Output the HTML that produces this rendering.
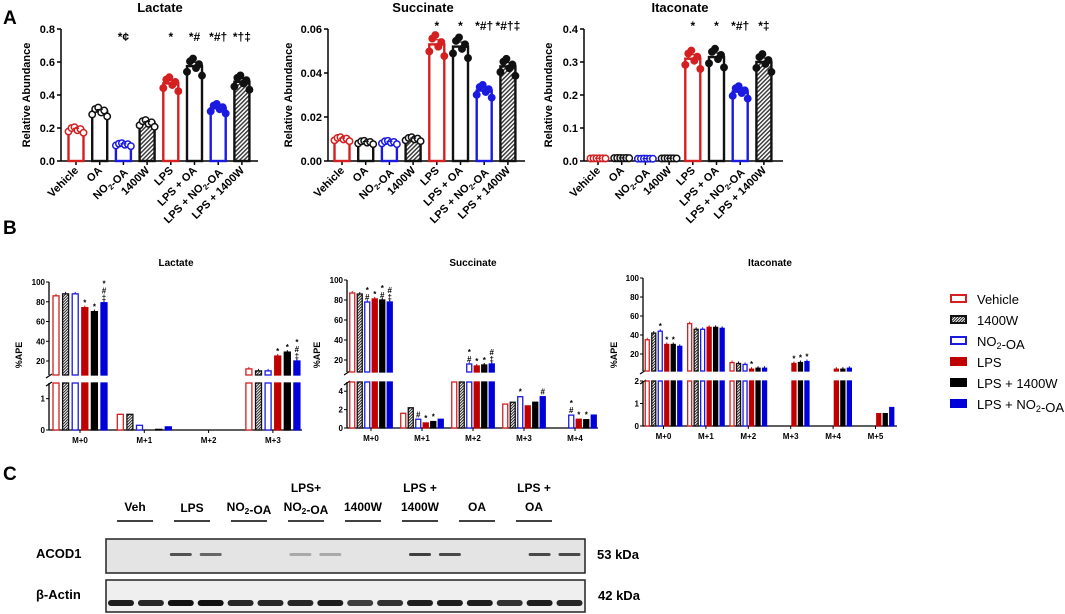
<!DOCTYPE html>
<html><head><meta charset="utf-8">
<style>
html,body{margin:0;padding:0;background:#fff;}
svg{display:block;font-family:"Liberation Sans",Arial,sans-serif;}
text{font-weight:bold;}
</style></head>
<body>
<svg id="fig" width="1065" height="614" viewBox="0 0 1065 614" xmlns="http://www.w3.org/2000/svg">
<defs>
<pattern id="hatch" patternUnits="userSpaceOnUse" width="3" height="3" patternTransform="rotate(45)">
<rect width="3" height="3" fill="#fff"/><rect width="1.4" height="3" fill="#333"/>
</pattern>
<pattern id="hatchS" patternUnits="userSpaceOnUse" width="2" height="2" patternTransform="rotate(45)">
<rect width="2" height="2" fill="#fff"/><rect width="1" height="2" fill="#222"/>
</pattern>
</defs>
<text x="3" y="24" font-size="19">A</text>
<text x="3" y="234" font-size="19">B</text>
<text x="3" y="480" font-size="19">C</text>
<g id="gA"></g><g id="gB"></g><g id="gC"></g>
</svg>
<script>
// ---------- Panel A data ----------
const catsA = ["Vehicle","OA","NO2-OA","1400W","LPS","LPS + OA","LPS + NO2-OA","LPS + 1400W"];
const lactateA = [0.19,0.30,0.10,0.23,0.47,0.575,0.32,0.48];
const succinateA = [0.010,0.0085,0.0085,0.010,0.053,0.052,0.032,0.043];
const itaconateA = [0.008,0.009,0.007,0.008,0.31,0.315,0.21,0.30];
const lactateTicks = [0,0.2,0.4,0.6,0.8];
const succinateTicks = [0,0.02,0.04,0.06];
const itaconateTicks = [0,0.1,0.2,0.3,0.4];
const lactateSig = ["","","*¢","","*","*#","*#†","*†‡"];
const succinateSig = ["","","","","*","*","*#†","*#†‡"];
const itaconateSig = ["","","","","*","*","*#†","*‡"];
const dotSpread = [-0.06,0.05,0.08,-0.02,0.02,-0.1];
// ---------- Panel B data ----------
const seriesB = ["Vehicle","1400W","NO2-OA","LPS","LPS + 1400W","LPS + NO2-OA"];
const lactGroups = ["M+0","M+1","M+2","M+3"];
const lactB = [[86,88,88,74,70,79],[0.5,0.5,0.15,0,0.02,0.1],[0,0,0,0,0,0],[12,10,10,25,29,20]];
const succGroups = ["M+0","M+1","M+2","M+3","M+4"];
const succB = [[87,86,78,81,80,78],[1.6,2.2,0.95,0.55,0.7,0.95],[8,8,16,14,15,16],[2.6,2.8,3.4,2.4,2.8,3.4],[0,0,1.4,0.95,0.9,1.4]];
const itaGroups = ["M+0","M+1","M+2","M+3","M+4","M+5"];
const itaB = [[35,42,44,30,30,28],[52,46,46,48,48,47],[11,10,9,4,5,5],[0,0,0,10,11,12],[0,0,0,4,4,5],[0,0,0,0.55,0.55,0.82]];
const upperTicksB = [20,40,60,80,100];
const lactLowTicks = [0,1]; const succLowTicks = [0,2,4]; const itaLowTicks = [0,1,2];
const lactSigB = [[0,3,["*"]],[0,4,["*"]],[0,5,["*","#","‡"]],[3,3,["*"]],[3,4,["*"]],[3,5,["*","#","‡"]]];
const succSigB = [[0,2,["*","#"]],[0,3,["*"]],[0,4,["*","#"]],[0,5,["#","‡"]],[1,2,["#"]],[1,3,["*"]],[1,4,["*"]],[2,2,["*","#"]],[2,3,["*"]],[2,4,["*"]],[2,5,["#","‡"]],[3,2,["*"]],[3,5,["#"]],[4,2,["*","#"]],[4,3,["*"]],[4,4,["*"]]];
const itaSigB = [[0,2,["*"]],[0,3,["*"]],[0,4,["*"]],[2,3,["*"]],[3,3,["*"]],[3,4,["*"]],[3,5,["*"]]];
// ---------- Panel C data ----------
const laneLabels = [["Veh"],["LPS"],["NO2-OA"],["LPS+","NO2-OA"],["1400W"],["LPS +","1400W"],["OA"],["LPS +","OA"]];
const acodIntensity = [0,0,0.75,0.65,0,0,0.3,0.3,0,0,0.85,0.8,0,0,0.8,0.8];
const actinIntensity = [0.95,0.9,1,1,0.9,0.9,0.9,0.95,0.8,0.85,0.95,0.95,0.95,0.85,0.95,0.9];

const NS="http://www.w3.org/2000/svg";
function mk(parent,tag,attrs,txt){const e=document.createElementNS(NS,tag);for(const k in attrs)e.setAttribute(k,attrs[k]);if(txt!==undefined)e.textContent=txt;parent.appendChild(e);return e;}
function labelText(el,str){
  const parts=str.split("NO2");
  parts.forEach((p,i)=>{ if(i>0){mk(el,"tspan",{},"NO");mk(el,"tspan",{"font-size":"0.7em",dy:"3"},"2");mk(el,"tspan",{dy:"-3"},"");} if(p)mk(el,"tspan",{},p);});
}
const colA=["#d42020","#111","#1a1ae0","#111","#d42020","#111","#1a1ae0","#111"];

function chartA(g,name,title,titleX,axisX,x0,axisEnd,vals,ticks,max,dec,sig,sigY,ytitleX){
  const base=161,top=29,dx=23.7,bw=15;
  const y=v=>base-v/max*(base-top);
  const x=i=>x0+i*dx;
  const grp=mk(g,"g",{});
  
  
  const t=mk(grp,"text",{x:titleX,y:12,"font-size":13,"text-anchor":"middle"},title);
  
  const yt=mk(grp,"text",{x:ytitleX,y:95,"font-size":11,"text-anchor":"middle",transform:`rotate(-90 ${ytitleX} 95)`},"Relative Abundance");
  
  mk(grp,"line",{x1:axisX,y1:top,x2:axisX,y2:base,stroke:"#000","stroke-width":1.5});
  mk(grp,"line",{x1:axisX,y1:base,x2:axisEnd,y2:base,stroke:"#000","stroke-width":1.5});
  ticks.forEach(tv=>{
    mk(grp,"line",{x1:axisX-4,y1:y(tv),x2:axisX,y2:y(tv),stroke:"#000","stroke-width":1.5});
    const tl=mk(grp,"text",{x:axisX-6,y:y(tv)+4,"font-size":11,"text-anchor":"end"},tv.toFixed(dec));
    
  });
  vals.forEach((v,i)=>{
    const cx=x(i);
    mk(grp,"line",{x1:cx,y1:base,x2:cx,y2:base+4,stroke:"#000","stroke-width":1.5});
    const hatch=(i===3||i===7);
    const b=mk(grp,"rect",{x:cx-bw/2,y:y(v),width:bw,height:base-y(v),fill:hatch?"url(#hatch)":"#fff",stroke:colA[i],"stroke-width":2.4});
    
    const filled=i>=4;
    dotSpread.forEach((d,k)=>{
      const dv=v*(1+d*(v>0.05*max?1:0.3));
      const ox=(k-2.5)*3;
      mk(grp,"circle",{cx:cx+ox,cy:y(dv),r:3.2,fill:filled?colA[i]:"#fff",stroke:colA[i],"stroke-width":1.5});
    });
    mk(grp,"line",{x1:cx-3,y1:y(v*1.04),x2:cx+3,y2:y(v*1.04),stroke:colA[i],"stroke-width":1.2});
    const lab=mk(grp,"text",{x:cx+3,y:171,"font-size":11,"text-anchor":"end",transform:`rotate(-45 ${cx+3} 171)`});
    labelText(lab,catsA[i]);
    
    if(sig[i]){const s=mk(grp,"text",{x:cx,y:sigY,"font-size":12,"text-anchor":"middle"},sig[i]);
      }
  });
}
const gA=document.getElementById("gA");
chartA(gA,"lactate","Lactate",160,61,76,258,lactateA,lactateTicks,0.8,1,lactateSig,41,30);
chartA(gA,"succinate","Succinate",423,328,342,525,succinateA,succinateTicks,0.06,2,succinateSig,30,292);
chartA(gA,"itaconate","Itaconate",680,584,598,783,itaconateA,itaconateTicks,0.4,1,itaconateSig,30,552);

// ---------- Panel B ----------
const colB=["#d42020","#111","#1a1ae0","#c00000","#000","#0000d8"];
const fillB=["#fff","url(#hatchS)","#fff","#c00000","#000","#0000d8"];
function chartB(g,name,title,titleX,cfg,groups,data,lowTicks,sigs){
  const {ax,axEnd,g0,gdx,bdx,bw,uTop,uPx,uMin,uMax,uBot,lTop,lBase,lMax,yl}=cfg;
  const yU=v=>uTop+(uMax-v)*uPx;
  const yL=v=>lBase-v/lMax*(lBase-lTop);
  const grp=mk(g,"g",{});
  
  
  const t=mk(grp,"text",{x:titleX,y:266,"font-size":10,"text-anchor":"middle"},title);
  
  const yt=mk(grp,"text",{x:yl,y:355,"font-size":9,"text-anchor":"middle",transform:`rotate(-90 ${yl} 355)`},"%APE");
  
  mk(grp,"line",{x1:ax,y1:uTop,x2:ax,y2:uBot,stroke:"#000","stroke-width":1.3});
  mk(grp,"line",{x1:ax,y1:lTop,x2:ax,y2:lBase,stroke:"#000","stroke-width":1.3});
  mk(grp,"line",{x1:ax-3,y1:uBot+3,x2:ax+3,y2:uBot-1,stroke:"#000","stroke-width":1.2});
  mk(grp,"line",{x1:ax-3,y1:lTop+3,x2:ax+3,y2:lTop-1,stroke:"#000","stroke-width":1.2});
  mk(grp,"line",{x1:ax,y1:lBase,x2:axEnd,y2:lBase,stroke:"#000","stroke-width":1.3});
  upperTicksB.forEach(tv=>{
    mk(grp,"line",{x1:ax-3,y1:yU(tv),x2:ax,y2:yU(tv),stroke:"#000"});
    mk(grp,"text",{x:ax-4,y:yU(tv)+3,"font-size":8,"text-anchor":"end"},tv);
  });
  lowTicks.forEach(tv=>{
    mk(grp,"line",{x1:ax-3,y1:yL(tv),x2:ax,y2:yL(tv),stroke:"#000"});
    mk(grp,"text",{x:ax-4,y:yL(tv)+3,"font-size":8,"text-anchor":"end"},tv);
  });
  groups.forEach((gn,gi)=>{
    const gc=g0+gi*gdx;
    mk(grp,"line",{x1:gc,y1:lBase,x2:gc,y2:lBase+3,stroke:"#000"});
    const gl=mk(grp,"text",{x:gc,y:lBase+13,"font-size":8,"text-anchor":"middle"},gn);
    
    data[gi].forEach((v,si)=>{
      if(v<=0)return;
      const bx=gc+(si-2.5)*bdx-bw/2;
      const st={fill:fillB[si],stroke:colB[si],"stroke-width":1.3};
      const lv=Math.min(v,lMax);
      const r1=mk(grp,"rect",Object.assign({x:bx,y:yL(lv),width:bw,height:lBase-yL(lv)},st));
      
      if(v>uMin){
        mk(grp,"rect",Object.assign({x:bx,y:yU(v),width:bw,height:uBot-yU(v)},st));
        mk(grp,"line",{x1:bx+bw/2,y1:yU(v),x2:bx+bw/2,y2:yU(v)-2,stroke:colB[si]});
      }
    });
  });
  sigs.forEach(([gi,si,lines])=>{
    const v=data[gi][si];
    const cx=g0+gi*gdx+(si-2.5)*bdx;
    let ty=(v>uMin?yU(v):yL(Math.min(v,lMax)))-4;
    for(let k=lines.length-1;k>=0;k--){
      const s=mk(grp,"text",{x:cx,y:ty+2,"font-size":8,"text-anchor":"middle"},lines[k]);
      
      ty-=7;
    }
  });
}
const gB=document.getElementById("gB");
chartB(gB,"lactate","Lactate",176,{ax:49,axEnd:302,g0:80,gdx:64.3,bdx:9.6,bw:6,uTop:282,uPx:0.9875,uMin:6,uMax:100,uBot:375,lTop:383,lBase:430,lMax:1.5,yl:22},lactGroups,lactB,lactLowTicks,lactSigB);
chartB(gB,"succinate","Succinate",473,{ax:347,axEnd:598,g0:371,gdx:51,bdx:7.5,bw:5,uTop:280,uPx:1,uMin:8,uMax:100,uBot:372,lTop:382,lBase:428,lMax:5,yl:320},succGroups,succB,succLowTicks,succSigB);
chartB(gB,"itaconate","Itaconate",770,{ax:643,axEnd:897,g0:663.5,gdx:42.4,bdx:6.5,bw:4,uTop:278,uPx:0.95,uMin:2,uMax:100,uBot:371,lTop:381,lBase:426,lMax:2,yl:617},itaGroups,itaB,itaLowTicks,itaSigB);

// legend
const legG=mk(gB,"g",{});


seriesB.forEach((s,i)=>{
  const ly=299+i*21;
  const e=mk(legG,"g",{});
  
  
  mk(e,"rect",{x:951,y:ly-4,width:15,height:7,fill:i===1?"url(#hatchS)":fillB[i],stroke:colB[i],"stroke-width":2});
  const t=mk(e,"text",{x:977,y:ly+5,"font-size":13,style:"font-weight:normal"});
  labelText(t,s);
});

// ---------- Panel C ----------
const gC=document.getElementById("gC");
laneLabels.forEach((ll,i)=>{
  const cx=135+i*57;
  const g=mk(gC,"g",{});
  
  
  ll.forEach((line,k)=>{
    const ty=ll.length===1?(i===1?512:511):(492+k*19);
    const t=mk(g,"text",{x:cx,y:ty,"font-size":12,"text-anchor":"middle"});
    labelText(t,line);
  });
  mk(g,"line",{x1:cx-18,y1:521,x2:cx+18,y2:521,stroke:"#000","stroke-width":1.5});
});
const bl=[["ACOD1",558],["β-Actin",599]];
bl.forEach(([n,yy])=>{const t=mk(gC,"text",{x:36,y:yy,"font-size":13},n);});
const r1=mk(gC,"rect",{x:106,y:539,width:479,height:34,fill:"#e4e4e4",stroke:"#222","stroke-width":1.5});

const r2=mk(gC,"rect",{x:106,y:580,width:479,height:32,fill:"#efefef",stroke:"#222","stroke-width":1.5});

for(let i=0;i<16;i++){
  const cx=121+i*29.9;
  const a=acodIntensity[i]||0;
  if(a>0){const b=mk(gC,"rect",{x:cx-11,y:553,width:22,height:3,rx:1.5,fill:"#222","fill-opacity":a});
    }
  const b2=mk(gC,"rect",{x:cx-13,y:600,width:26,height:6,rx:3,fill:"#111","fill-opacity":actinIntensity[i]});
  
}
const k1=mk(gC,"text",{x:597,y:559,"font-size":13},"53 kDa");
const k2=mk(gC,"text",{x:598,y:600,"font-size":13},"42 kDa");
</script>
</body></html>
